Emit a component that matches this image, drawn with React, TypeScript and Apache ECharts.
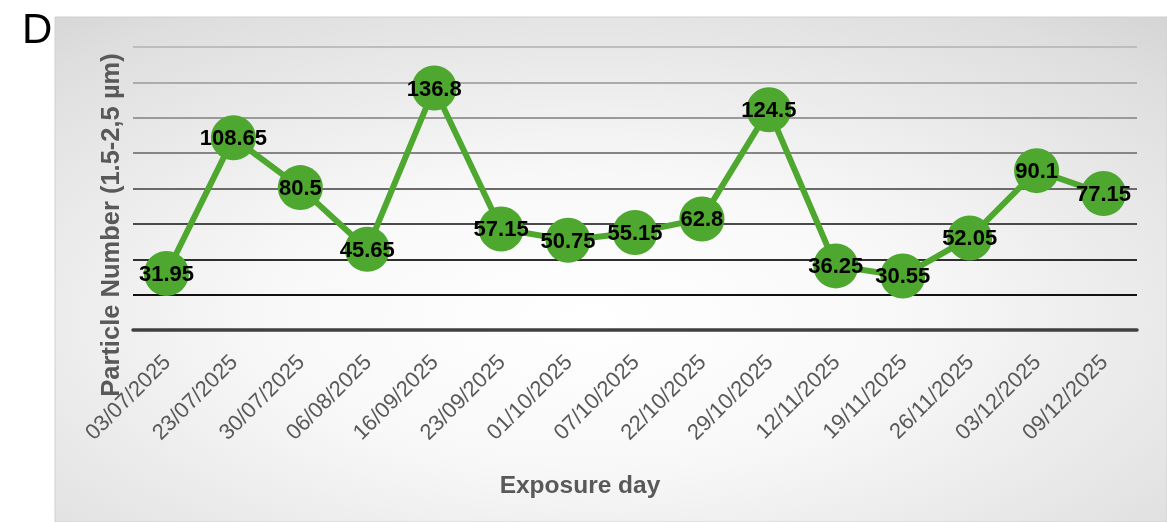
import React, { useEffect, useRef } from "react";
import * as echarts from "echarts";

const categories = [
  "03/07/2025", "23/07/2025", "30/07/2025", "06/08/2025", "16/09/2025",
  "23/09/2025", "01/10/2025", "07/10/2025", "22/10/2025", "29/10/2025",
  "12/11/2025", "19/11/2025", "26/11/2025", "03/12/2025", "09/12/2025",
];
const particleNumbers = [
  31.95, 108.65, 80.5, 45.65, 136.8, 57.15, 50.75, 55.15, 62.8, 124.5,
  36.25, 30.55, 52.05, 90.1, 77.15,
];
const yMin = 0;
const yMax = 160;
const yStep = 20;

const panelLetter = "D";
const xTitle = "Exposure day";
const yTitle = "Particle Number (1.5-2,5 µm)";

// grid lines from the base upwards: dark near zero, fading higher up
const gridLineColors = [
  "#404040", "#111111", "#2e2e2e", "#4a4a4a", "#6a6a6a",
  "#858585", "#9a9a9a", "#ababab", "#bdbdbd",
];

const FONT = "'Liberation Sans', Arial, sans-serif";
const GREEN = "#4ea72e";

export default function App() {
  const ref = useRef<HTMLDivElement>(null);

  useEffect(() => {
    if (!ref.current) return;
    const chart = echarts.init(ref.current, undefined, { renderer: "svg" });
    chart.setOption({
      animation: false,
      graphic: [
        {
          type: "rect",
          z: -100,
          shape: { x: 55, y: 17, width: 1112, height: 505 },
          style: {
            fill: new echarts.graphic.RadialGradient(0.48, 0.6, 1.15, [
              { offset: 0, color: "#ffffff" },
              { offset: 0.25, color: "#f8f8f8" },
              { offset: 0.6, color: "#dedede" },
              { offset: 1, color: "#b4b4b4" },
            ]),
            stroke: "#d0d0d0",
            lineWidth: 1,
          },
        },
        {
          type: "text",
          x: 22,
          y: 28,
          style: {
            text: panelLetter,
            font: `42px ${FONT}`,
            fill: "#000000",
            textVerticalAlign: "middle",
          },
        },
        {
          type: "text",
          x: 580,
          y: 484,
          style: {
            text: xTitle,
            font: `bold 24.5px ${FONT}`,
            fill: "#595959",
            textAlign: "center",
            textVerticalAlign: "middle",
          },
        },
        {
          type: "text",
          x: 110,
          y: 225,
          rotation: Math.PI / 2,
          style: {
            text: yTitle,
            font: `bold 25.5px ${FONT}`,
            fill: "#595959",
            textAlign: "center",
            textVerticalAlign: "middle",
          },
        },
      ],
      grid: { left: 133, right: 30, top: 47, height: 283, containLabel: false },
      xAxis: {
        type: "category",
        data: categories,
        boundaryGap: true,
        axisLine: { show: true, lineStyle: { color: "#404040", width: 3.5 } },
        axisTick: { show: false },
        axisLabel: {
          rotate: 45,
          margin: 28,
          interval: 0,
          color: "#595959",
          fontFamily: FONT,
          fontSize: 22,
        },
        splitLine: { show: false },
      },
      yAxis: {
        type: "value",
        min: yMin,
        max: yMax,
        interval: yStep,
        axisLine: { show: false },
        axisTick: { show: false },
        axisLabel: { show: false },
        splitLine: {
          show: true,
          lineStyle: { color: gridLineColors, width: 2 },
        },
      },
      series: [
        {
          type: "line",
          data: particleNumbers,
          symbol: "circle",
          symbolSize: 45,
          itemStyle: { color: GREEN },
          lineStyle: { color: GREEN, width: 6 },
          label: {
            show: true,
            position: "inside",
            color: "#000000",
            fontFamily: FONT,
            fontWeight: "bold",
            fontSize: 22,
          },
        },
      ],
    });
    return () => chart.dispose();
  }, []);

  return (
    <div
      ref={ref}
      style={{ position: "fixed", left: 0, top: 0, width: 1167, height: 522 }}
    />
  );
}
